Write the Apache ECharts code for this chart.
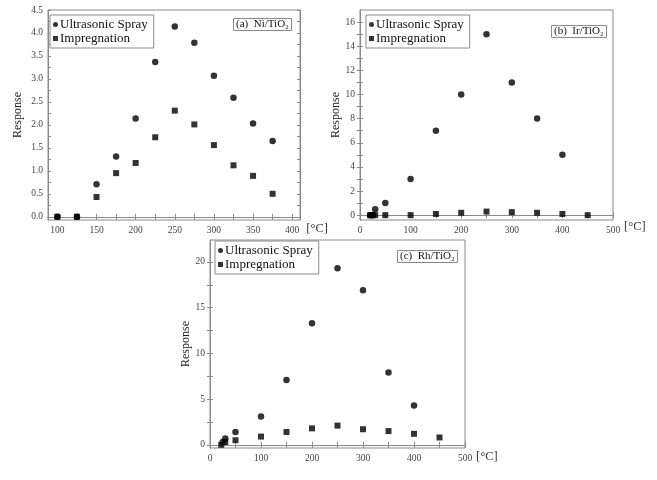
<!DOCTYPE html>
<html><head><meta charset="utf-8">
<script src="https://cdn.jsdelivr.net/npm/echarts@6/dist/echarts.min.js"></script>
<style>html,body{margin:0;padding:0;background:#fff}#c{width:657px;height:480px}</style>
</head><body><div id="c"></div>
<script>
// Panel (a) Ni/TiO2
const niTemps = [100,125,150,175,200,225,250,275,300,325,350,375];
const niSpray = [0,0,0.71,1.31,2.14,3.37,4.14,3.79,3.07,2.59,2.03,1.65];
const niImpTemps = [100,125,150,175,200,225,250,275,300,325,350,375];
const niImp = [0,0,0.43,0.95,1.17,1.73,2.31,2.01,1.56,1.12,0.89,0.50];
// Panel (b) Ir/TiO2
const irSprayTemps = [20,25,30,50,100,150,200,250,300,350,400];
const irSpray = [0,0,0.5,1.0,3.0,7.0,10.0,15.0,11.0,8.0,5.0];
const irImpTemps = [20,25,30,50,100,150,200,250,300,350,400,450];
const irImp = [0,0,0,0,0,0.1,0.2,0.3,0.25,0.2,0.1,0];
// Panel (c) Rh/TiO2
const rhSprayTemps = [25,30,50,100,150,200,250,300,350,400];
const rhSpray = [0.3,0.7,1.4,3.1,7.1,13.3,19.3,16.9,7.9,4.3];
const rhImpTemps = [22,30,50,100,150,200,250,300,350,400,450];
const rhImp = [0,0.3,0.5,0.9,1.4,1.8,2.1,1.7,1.5,1.2,0.8];
// Tick labels
const niXLabels = [100,150,200,250,300,350,400];
const niYLabels = [0,0.5,1,1.5,2,2.5,3,3.5,4,4.5];
const irXLabels = [0,100,200,300,400,500];
const irYLabels = [0,2,4,6,8,10,12,14,16];
const rhXLabels = [0,100,200,300,400,500];
const rhYLabels = [0,5,10,15,20];
const panelLabels = ['(a)  Ni/TiO\u2082','(b)  Ir/TiO\u2082','(c)  Rh/TiO\u2082'];
const seriesNames = ['Ultrasonic Spray','Impregnation'];

const FONT = 'Liberation Serif';
const AX = '#8a8a8a';
function minorOf(labels, div){
  const out=[]; for(let i=0;i<labels.length;i++){out.push(labels[i]); if(i<labels.length-1){const st=(labels[i+1]-labels[i])/div; for(let k=1;k<div;k++) out.push(+(labels[i]+st*k).toFixed(4));}}
  return out;
}
const panels = [
  {grid:{left:48,top:10,width:252,height:210}, xmin:88,xmax:410, ymin:-0.07,ymax:4.5, xl:niXLabels, yl:niYLabels, xdiv:2, ydiv:2, yfmt:v=>v.toFixed(1), xname:' [°C]'},
  {grid:{left:360,top:10,width:253,height:210}, xmin:0,xmax:500, ymin:-0.4,ymax:17, xl:irXLabels, yl:irYLabels, xdiv:2, ydiv:2, yfmt:v=>String(v), xname:'[°C]'},
  {grid:{left:210,top:240,width:255,height:208}, xmin:0,xmax:500, ymin:-0.35,ymax:22.4, xl:rhXLabels, yl:rhYLabels, xdiv:2, ydiv:2, yfmt:v=>String(v), xname:'[°C]'}
];
const grids=[], xAxes=[], yAxes=[];
panels.forEach((p,i)=>{
  grids.push(Object.assign({show:true,borderColor:AX,borderWidth:1,backgroundColor:'#fff'},p.grid));
  const xt = minorOf(p.xl,p.xdiv), yt = minorOf(p.yl,p.ydiv);
  xAxes.push({type:'value',gridIndex:i,min:p.xmin,max:p.xmax,position:'bottom',
    name:p.xname,nameLocation:'end',nameGap:2,nameTextStyle:{fontFamily:FONT,fontSize:12.5,color:'#333',verticalAlign:'top',padding:[5,0,0,0]},
    axisLine:{show:true,lineStyle:{color:AX}},splitLine:{show:false},
    axisTick:{show:true,inside:true,length:3,customValues:xt,lineStyle:{color:AX}},
    axisLabel:{customValues:p.xl,fontFamily:FONT,fontSize:9.5,color:'#444',margin:5}});
  xAxes.push({type:'value',gridIndex:i,min:p.xmin,max:p.xmax,position:'top',
    axisLine:{show:true,lineStyle:{color:AX}},splitLine:{show:false},
    axisTick:{show:true,inside:true,length:3,customValues:xt,lineStyle:{color:AX}},axisLabel:{show:false}});
  yAxes.push({type:'value',gridIndex:i,min:p.ymin,max:p.ymax,position:'left',
    name:'Response',nameLocation:'middle',nameGap:i===0?24:(i===1?16:14),nameTextStyle:{fontFamily:FONT,fontSize:12,color:'#222'},
    axisLine:{show:true,lineStyle:{color:AX}},splitLine:{show:false},
    axisTick:{show:true,inside:true,length:3,customValues:yt,lineStyle:{color:AX}},
    axisLabel:{customValues:p.yl,formatter:p.yfmt,fontFamily:FONT,fontSize:9.5,color:'#444',margin:5}});
  yAxes.push({type:'value',gridIndex:i,min:p.ymin,max:p.ymax,position:'right',
    axisLine:{show:true,lineStyle:{color:AX}},splitLine:{show:false},
    axisTick:{show:true,inside:true,length:3,customValues:yt,lineStyle:{color:AX}},axisLabel:{show:false}});
});
function zip(xs,ys){return xs.map((x,k)=>[x,ys[k]]);}
const data = [
  [zip(niTemps,niSpray), zip(niImpTemps,niImp)],
  [zip(irSprayTemps,irSpray), zip(irImpTemps,irImp)],
  [zip(rhSprayTemps,rhSpray), zip(rhImpTemps,rhImp)]
];
const series=[];
data.forEach((d,i)=>{
  series.push({type:'scatter',name:seriesNames[0],xAxisIndex:2*i,yAxisIndex:2*i,data:d[0],symbol:'circle',symbolSize:6.5,itemStyle:{color:'#000'},z:3});
  series.push({type:'scatter',name:seriesNames[1],xAxisIndex:2*i,yAxisIndex:2*i,data:d[1],symbol:'rect',symbolSize:6,itemStyle:{color:'#000'},z:3});
});
const legendPos=[{left:50,top:15},{left:366,top:15},{left:215,top:241}];
const legends = legendPos.map(pos=>Object.assign({
  orient:'vertical',data:[{name:seriesNames[0],icon:'circle'},{name:seriesNames[1],icon:'rect'}],
  itemWidth:5,itemHeight:5,itemGap:1,borderColor:AX,borderWidth:1,backgroundColor:'#fff',
  padding:[3,6,3,3],selectedMode:false,
  textStyle:{fontFamily:FONT,fontSize:13,color:'#111',padding:[0,0,0,-3]}
},pos));
const titlePos=[{left:233,top:18},{left:551,top:25},{left:397,top:250}];
const titles = titlePos.map((pos,i)=>Object.assign({
  text:panelLabels[i],borderColor:AX,borderWidth:1,padding:[1,3,1,3],
  textStyle:{fontFamily:FONT,fontSize:11,fontWeight:'normal',color:'#111'}
},pos));
const chart = echarts.init(document.getElementById('c'),null,{renderer:'canvas'});
chart.setOption({animation:false,backgroundColor:'#fff',title:titles,legend:legends,grid:grids,xAxis:xAxes,yAxis:yAxes,series:series});
</script></body></html>
